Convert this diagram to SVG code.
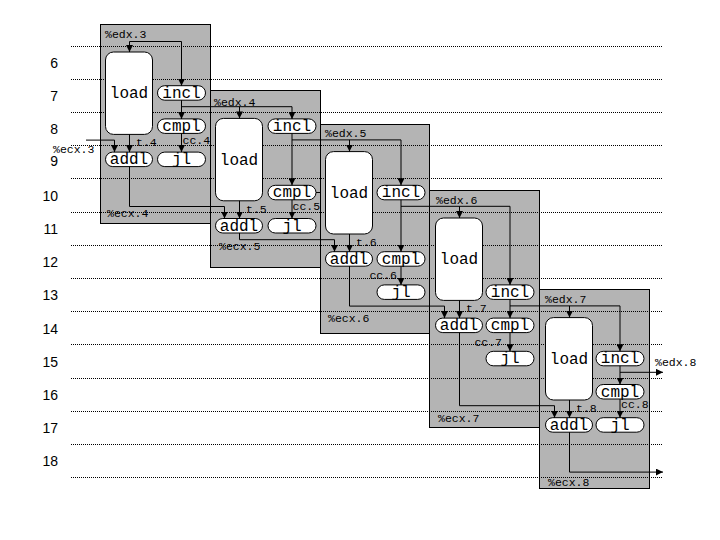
<svg xmlns="http://www.w3.org/2000/svg" width="720" height="540" viewBox="0 0 720 540">
<style>
.blk{fill:#b4b4b4;stroke:#000;stroke-width:1}
.grid{stroke:#000;stroke-width:1;stroke-dasharray:1 1;shape-rendering:crispEdges}
.nd{fill:#fff;stroke:#000;stroke-width:1}
.nt{font-family:"Liberation Mono","Courier New",monospace;font-size:16px;text-anchor:middle;fill:#000}
.lb{font-family:"Liberation Mono","Courier New",monospace;font-size:11.5px;fill:#000}
.row{font-family:"Liberation Sans",Arial,sans-serif;font-size:14px;text-anchor:end;fill:#000}
.c{fill:none;stroke:#000;stroke-width:1}
.a{marker-end:url(#ah)}
</style>
<defs>
<marker id="ah" viewBox="0 0 7 7" refX="7" refY="3.5" markerWidth="7" markerHeight="7" markerUnits="userSpaceOnUse" orient="auto">
<path d="M0,0 L7,3.5 L0,7 z" fill="#000"/>
</marker>
</defs>
<rect width="720" height="540" fill="#fff"/>
<g id="blocks">
<rect class="blk" x="100.5" y="24.5" width="110" height="199"/>
<rect class="blk" x="210.5" y="90.5" width="110" height="177"/>
<rect class="blk" x="320.5" y="124.5" width="109" height="209"/>
<rect class="blk" x="429.5" y="190.5" width="110" height="237"/>
<rect class="blk" x="539.5" y="289.5" width="110" height="199"/>
</g>
<g id="grid">
<line class="grid" x1="71" x2="662" y1="46" y2="46"/>
<line class="grid" x1="71" x2="662" y1="79.2" y2="79.2"/>
<line class="grid" x1="71" x2="662" y1="112.4" y2="112.4"/>
<line class="grid" x1="71" x2="662" y1="145.6" y2="145.6"/>
<line class="grid" x1="71" x2="662" y1="178.8" y2="178.8"/>
<line class="grid" x1="71" x2="662" y1="212" y2="212"/>
<line class="grid" x1="71" x2="662" y1="245.2" y2="245.2"/>
<line class="grid" x1="71" x2="662" y1="278.4" y2="278.4"/>
<line class="grid" x1="71" x2="662" y1="311.6" y2="311.6"/>
<line class="grid" x1="71" x2="662" y1="344.8" y2="344.8"/>
<line class="grid" x1="71" x2="662" y1="378" y2="378"/>
<line class="grid" x1="71" x2="662" y1="411.2" y2="411.2"/>
<line class="grid" x1="71" x2="662" y1="444.4" y2="444.4"/>
<line class="grid" x1="71" x2="662" y1="477.6" y2="477.6"/>
</g>
<g id="rows">
<text class="row" x="58" y="68">6</text>
<text class="row" x="58" y="101.2">7</text>
<text class="row" x="58" y="134.4">8</text>
<text class="row" x="58" y="165.5">9</text>
<text class="row" x="58" y="200.8">10</text>
<text class="row" x="58" y="234">11</text>
<text class="row" x="58" y="267.2">12</text>
<text class="row" x="58" y="300.4">13</text>
<text class="row" x="58" y="333.6">14</text>
<text class="row" x="58" y="366.8">15</text>
<text class="row" x="58" y="400">16</text>
<text class="row" x="58" y="433.2">17</text>
<text class="row" x="58" y="466.4">18</text>
</g>
<g id="iter1">
<g id="load1"><rect class="nd" x="105.5" y="52" width="47" height="82.4" rx="8"/><text class="nt" x="129" y="98.2">load</text></g>
<g id="incl1"><rect class="nd" x="157.5" y="85.7" width="48" height="14.5" rx="7.25"/><text class="nt" x="181.5" y="97.7">incl</text></g>
<g id="cmpl1"><rect class="nd" x="157.5" y="118.9" width="48" height="14.5" rx="7.25"/><text class="nt" x="181.5" y="130.9">cmpl</text></g>
<g id="addl1"><rect class="nd" x="105.5" y="152.1" width="47" height="14.5" rx="7.25"/><text class="nt" x="129" y="164.1">addl</text></g>
<g id="jl1"><rect class="nd" x="157.5" y="152.1" width="48" height="14.5" rx="7.25"/><text class="nt" x="181.5" y="164.1">jl</text></g>
</g>
<g id="iter2">
<g id="load2"><rect class="nd" x="215.5" y="118.4" width="47" height="82.4" rx="8"/><text class="nt" x="239" y="164.6">load</text></g>
<g id="incl2"><rect class="nd" x="268" y="118.9" width="48" height="14.5" rx="7.25"/><text class="nt" x="292" y="130.9">incl</text></g>
<g id="cmpl2"><rect class="nd" x="268" y="185.3" width="48" height="14.5" rx="7.25"/><text class="nt" x="292" y="197.3">cmpl</text></g>
<g id="addl2"><rect class="nd" x="215.5" y="218.5" width="47" height="14.5" rx="7.25"/><text class="nt" x="239" y="230.5">addl</text></g>
<g id="jl2"><rect class="nd" x="268" y="218.5" width="48" height="14.5" rx="7.25"/><text class="nt" x="292" y="230.5">jl</text></g>
</g>
<g id="iter3">
<g id="load3"><rect class="nd" x="325.5" y="151.6" width="47" height="82.4" rx="8"/><text class="nt" x="349" y="197.8">load</text></g>
<g id="incl3"><rect class="nd" x="377" y="185.3" width="48" height="14.5" rx="7.25"/><text class="nt" x="401" y="197.3">incl</text></g>
<g id="cmpl3"><rect class="nd" x="377" y="251.7" width="48" height="14.5" rx="7.25"/><text class="nt" x="401" y="263.7">cmpl</text></g>
<g id="addl3"><rect class="nd" x="325.5" y="251.7" width="47" height="14.5" rx="7.25"/><text class="nt" x="349" y="263.7">addl</text></g>
<g id="jl3"><rect class="nd" x="377" y="284.9" width="48" height="14.5" rx="7.25"/><text class="nt" x="401" y="296.9">jl</text></g>
</g>
<g id="iter4">
<g id="load4"><rect class="nd" x="435.5" y="218" width="47" height="82.4" rx="8"/><text class="nt" x="459" y="264.2">load</text></g>
<g id="incl4"><rect class="nd" x="486" y="284.9" width="48" height="14.5" rx="7.25"/><text class="nt" x="510" y="296.9">incl</text></g>
<g id="cmpl4"><rect class="nd" x="486" y="318.1" width="48" height="14.5" rx="7.25"/><text class="nt" x="510" y="330.1">cmpl</text></g>
<g id="addl4"><rect class="nd" x="435.5" y="318.1" width="47" height="14.5" rx="7.25"/><text class="nt" x="459" y="330.1">addl</text></g>
<g id="jl4"><rect class="nd" x="486" y="351.3" width="48" height="14.5" rx="7.25"/><text class="nt" x="510" y="363.3">jl</text></g>
</g>
<g id="iter5">
<g id="load5"><rect class="nd" x="545.5" y="317.6" width="47" height="82.4" rx="8"/><text class="nt" x="569" y="363.8">load</text></g>
<g id="incl5"><rect class="nd" x="596" y="351.3" width="48" height="14.5" rx="7.25"/><text class="nt" x="620" y="363.3">incl</text></g>
<g id="cmpl5"><rect class="nd" x="596" y="384.5" width="48" height="14.5" rx="7.25"/><text class="nt" x="620" y="396.5">cmpl</text></g>
<g id="addl5"><rect class="nd" x="545.5" y="417.7" width="47" height="14.5" rx="7.25"/><text class="nt" x="569" y="429.7">addl</text></g>
<g id="jl5"><rect class="nd" x="596" y="417.7" width="48" height="14.5" rx="7.25"/><text class="nt" x="620" y="429.7">jl</text></g>
</g>
<g id="connectors">
<path class="c a" d="M129.5,41.5 H181.5 V85.7"/>
<path class="c a" d="M129.5,41.5 V52"/>
<path class="c a" d="M181.5,100.2 V118.9"/>
<path class="c a" d="M181.5,106.7 H292 V118.9"/>
<path class="c a" d="M239.5,106.7 V118.4"/>
<path class="c a" d="M181.5,133.4 V152.1"/>
<path class="c a" d="M129.5,134.4 V152.1"/>
<path class="c a" d="M86,140.1 H114.5 V152.1"/>
<path class="c a" d="M129.5,166.6 V206.5 H224.5 V218.5"/>

<path class="c a" d="M292,133.4 V185.3"/>
<path class="c a" d="M292,139.9 H401 V185.3"/>
<path class="c a" d="M349.5,139.9 V151.6"/>
<path class="c a" d="M292,199.8 V218.5"/>
<path class="c a" d="M239.5,200.8 V218.5"/>
<path class="c a" d="M239.5,233 V239.7 H334.5 V251.7"/>
<path class="c" d="M316,192.5 H320.5"/>

<path class="c a" d="M401,199.8 V251.7"/>
<path class="c a" d="M401,206.3 H510 V284.9"/>
<path class="c a" d="M459.5,206.3 V218"/>
<path class="c a" d="M401,266.2 V284.9"/>
<path class="c a" d="M349.5,234 V251.7"/>
<path class="c a" d="M349.5,266.2 V306.1 H444.5 V318.1"/>

<path class="c a" d="M510,299.4 V318.1"/>
<path class="c a" d="M510,305.9 H620 V351.3"/>
<path class="c a" d="M569.5,305.9 V317.6"/>
<path class="c a" d="M510,332.6 V351.3"/>
<path class="c a" d="M459.5,300.4 V318.1"/>
<path class="c a" d="M459.5,332.6 V405.7 H554.5 V417.7"/>

<path class="c a" d="M620,365.8 V384.5"/>
<path class="c a" d="M620,372.3 H663"/>
<path class="c a" d="M620,399 V417.7"/>
<path class="c a" d="M569.5,400 V417.7"/>
<path class="c a" d="M569.5,432.2 V472.1 H663"/>
</g>
<g id="labels">
<text class="lb" x="105" y="37.5">%edx.3</text>
<text class="lb" x="214" y="105.5">%edx.4</text>
<text class="lb" x="325" y="136.5">%edx.5</text>
<text class="lb" x="436" y="204">%edx.6</text>
<text class="lb" x="545" y="302.7">%edx.7</text>
<text class="lb" x="655" y="366">%edx.8</text>
<text class="lb" x="53" y="152.5">%ecx.3</text>
<text class="lb" x="107" y="217">%ecx.4</text>
<text class="lb" x="219" y="250">%ecx.5</text>
<text class="lb" x="328" y="322">%ecx.6</text>
<text class="lb" x="438" y="421.5">%ecx.7</text>
<text class="lb" x="548" y="486">%ecx.8</text>
<text class="lb" x="136" y="146">t.4</text>
<text class="lb" x="246" y="212.5">t.5</text>
<text class="lb" x="356" y="245.7">t.6</text>
<text class="lb" x="466" y="312">t.7</text>
<text class="lb" x="576" y="411.7">t.8</text>
<text class="lb" x="182.5" y="143.5">cc.4</text>
<text class="lb" x="292.5" y="209.5">cc.5</text>
<text class="lb" x="397" y="278.9" text-anchor="end">cc.6</text>
<text class="lb" x="502" y="345.8" text-anchor="end">cc.7</text>
<text class="lb" x="621" y="408">cc.8</text>
</g>
</svg>
